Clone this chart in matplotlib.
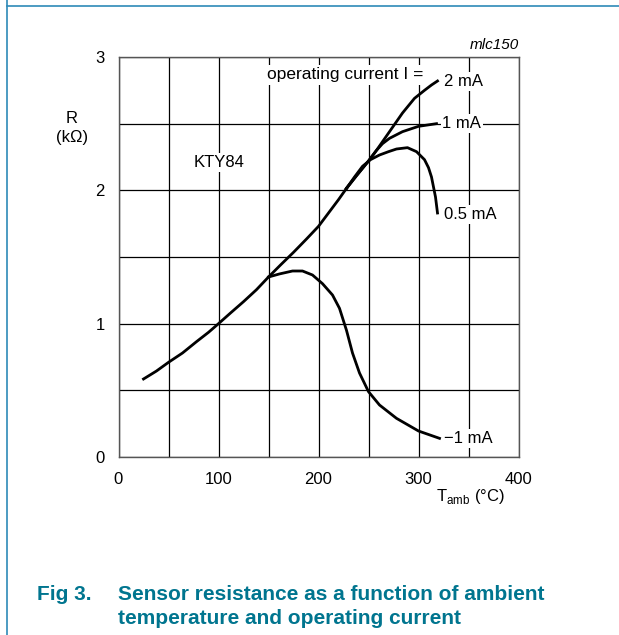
import matplotlib.pyplot as plt
from matplotlib.lines import Line2D

plt.rcParams['font.family'] = ['Liberation Sans', 'DejaVu Sans']

# common part of the curve (all currents)
common_t = [25, 38, 50, 64, 78, 90, 100, 112, 125, 138, 150, 162, 175, 188, 200, 211, 220, 228]
common_r = [0.585, 0.645, 0.71, 0.78, 0.865, 0.935, 1.0, 1.08, 1.165, 1.255, 1.35, 1.44, 1.535, 1.635, 1.73, 1.84, 1.93, 2.015]

t_2ma = [228, 238, 250, 258, 271, 284, 296, 306, 313, 319]
r_2ma = [2.015, 2.11, 2.22, 2.30, 2.44, 2.58, 2.69, 2.75, 2.79, 2.82]

t_1ma = [228, 238, 250, 258, 264, 271, 284, 300, 318]
r_1ma = [2.015, 2.11, 2.22, 2.30, 2.35, 2.39, 2.44, 2.48, 2.50]

t_05ma = [228, 236, 244, 252, 261, 270, 278, 289, 298, 306, 310, 313, 317, 319]
r_05ma = [2.015, 2.10, 2.18, 2.23, 2.265, 2.29, 2.31, 2.32, 2.29, 2.23, 2.17, 2.10, 1.95, 1.83]

t_m1ma = [150, 161, 174, 184, 194, 204, 214, 221, 228, 234, 241, 250, 261, 278, 300, 321]
r_m1ma = [1.35, 1.373, 1.395, 1.395, 1.365, 1.30, 1.215, 1.115, 0.95, 0.78, 0.63, 0.49, 0.39, 0.29, 0.195, 0.14]

fig = plt.figure(figsize=(6.19, 6.35), dpi=100)

# page frame lines (blue)
blue = '#2e8ab8'
fig.add_artist(Line2D([7 / 619, 1], [1 - 6 / 635, 1 - 6 / 635], color=blue, lw=1.2))
fig.add_artist(Line2D([7 / 619, 7 / 619], [0, 1], color=blue, lw=1.2))

ax = fig.add_axes([118.5 / 619, (635 - 457) / 635, 400 / 619, 400 / 635])
ax.set_xlim(0, 400)
ax.set_ylim(0, 3)
ax.set_xticks([0, 100, 200, 300, 400])
ax.set_xticks([50, 150, 250, 350], minor=True)
ax.set_yticks([0, 1, 2, 3])
ax.set_yticks([0.5, 1.5, 2.5], minor=True)
ax.grid(True, which='both', color='black', lw=0.9)
ax.tick_params(which='both', length=0, labelsize=12)
ax.tick_params(axis='x', pad=11)
ax.tick_params(axis='y', pad=10)
for s in ax.spines.values():
    s.set_color('#555555')
    s.set_linewidth(1.0)

lw = 2.0
ax.plot(common_t, common_r, color='black', lw=lw)
ax.plot(t_2ma, r_2ma, color='black', lw=lw)
ax.plot(t_1ma, r_1ma, color='black', lw=lw)
ax.plot(t_05ma, r_05ma, color='black', lw=lw)
ax.plot(t_m1ma, r_m1ma, color='black', lw=lw)

box = dict(facecolor='white', edgecolor='none', pad=1.5)
fs = 12
ax.text(305, 2.865, 'operating current I =', ha='right', va='center', fontsize=12.5, bbox=box)
ax.text(325, 2.82, '2 mA', ha='left', va='center', fontsize=fs, bbox=box)
ax.text(324, 2.50, '1 mA', ha='left', va='center', fontsize=fs, bbox=box)
ax.text(326, 1.82, '0.5 mA', ha='left', va='center', fontsize=fs, bbox=box)
ax.text(325, 0.14, '\u22121 mA', ha='left', va='center', fontsize=fs, bbox=box)
ax.text(101, 2.21, 'KTY84', ha='center', va='center', fontsize=fs, bbox=box)
ax.text(401, 3.04, 'mlc150', ha='right', va='bottom', fontsize=11, style='italic')

fig.text(72 / 619, 1 - 128 / 635, 'R\n(k\u03a9)', ha='center', va='center', fontsize=fs, linespacing=1.3)
fig.text(470 / 619, 1 - 497 / 635, r'T$_{\mathregular{amb}}$ (°C)', ha='center', va='center', fontsize=fs)

cap = '#00758f'
cfs = 15
fig.text(37 / 619, 1 - 600 / 635, 'Fig 3.', ha='left', va='baseline', fontsize=cfs,
         fontweight='bold', color=cap)
fig.text(118 / 619, 1 - 600 / 635, 'Sensor resistance as a function of ambient',
         ha='left', va='baseline', fontsize=cfs, fontweight='bold', color=cap)
fig.text(118 / 619, 1 - 624 / 635, 'temperature and operating current',
         ha='left', va='baseline', fontsize=cfs, fontweight='bold', color=cap)

fig.savefig('out.png', dpi=100)
